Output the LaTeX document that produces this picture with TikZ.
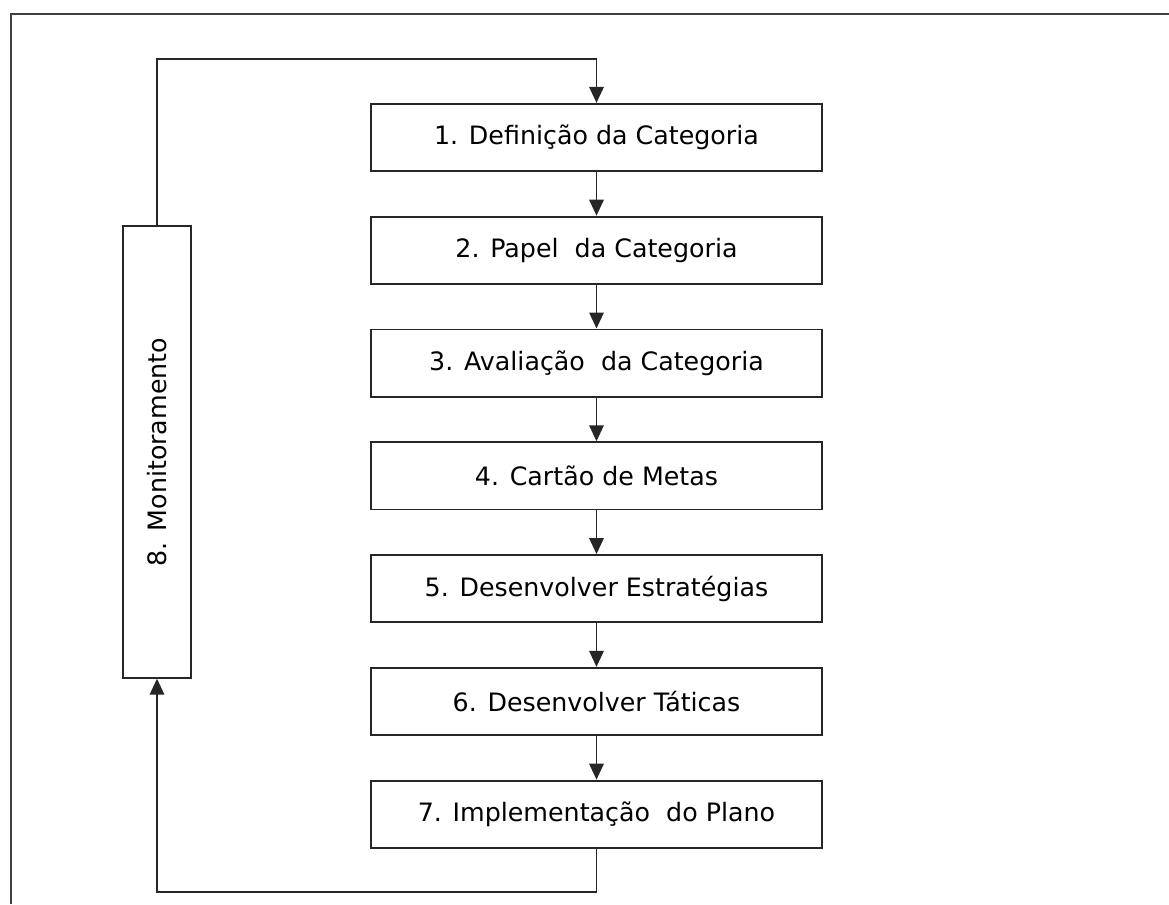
\documentclass[tikz,border=0pt]{standalone}
\usepackage{fontspec}
\setmainfont{DejaVu Sans}
\usetikzlibrary{positioning,arrows.meta}
\begin{document}
\begin{tikzpicture}[
        x=0.025cm, y=-0.025cm,
        node distance=1.09cm,
        line width=1.4pt,
        font=\fontsize{18}{21}\selectfont
    ]
    \tikzset{
        stepbox/.style = {rectangle, draw=black!85, align=center, minimum width=11.28cm, minimum height=1.68cm, inner sep=0pt},
        monbox/.style = {rectangle, draw=black!85, minimum width=1.68cm, minimum height=11.28cm, inner sep=0pt},
        arr/.style = {draw=black!85, -{Triangle[width=0.36cm,length=0.4cm]}},
    }
    \useasboundingbox (0,0) rectangle (1169,904);
    % frame of the page
    \draw[black!75] (11,904) -- (11,14) -- (1169,14);
    % steps
    \node[stepbox] (d1) at (596.5,137.5) {1. Definição da Categoria};
    \node[stepbox, below=of d1] (d2) {2. Papel\ \ da Categoria};
    \node[stepbox, below=of d2] (d3) {3. Avaliação\ \ da Categoria};
    \node[stepbox, below=of d3] (d4) {4. Cartão de Metas};
    \node[stepbox, below=of d4] (d5) {5. Desenvolver Estratégias};
    \node[stepbox, below=of d5] (d6) {6. Desenvolver Táticas};
    \node[stepbox, below=of d6] (d7) {7. Implementação\ \ do Plano};
    \node[monbox] (mon) at (157,452) {\rotatebox{90}{8. Monitoramento}};
    % arrows
    \draw[arr] (d1) -- (d2);
    \draw[arr] (d2) -- (d3);
    \draw[arr] (d3) -- (d4);
    \draw[arr] (d4) -- (d5);
    \draw[arr] (d5) -- (d6);
    \draw[arr] (d6) -- (d7);
    % feedback loop
    \coordinate (topy) at (0,59);
    \coordinate (boty) at (0,892);
    \draw[arr] (mon.north) -- (mon.north |- topy) -| (d1.north);
    \draw[arr] (d7.south) -- (d7.south |- boty) -| (mon.south);
\end{tikzpicture}
\end{document}
